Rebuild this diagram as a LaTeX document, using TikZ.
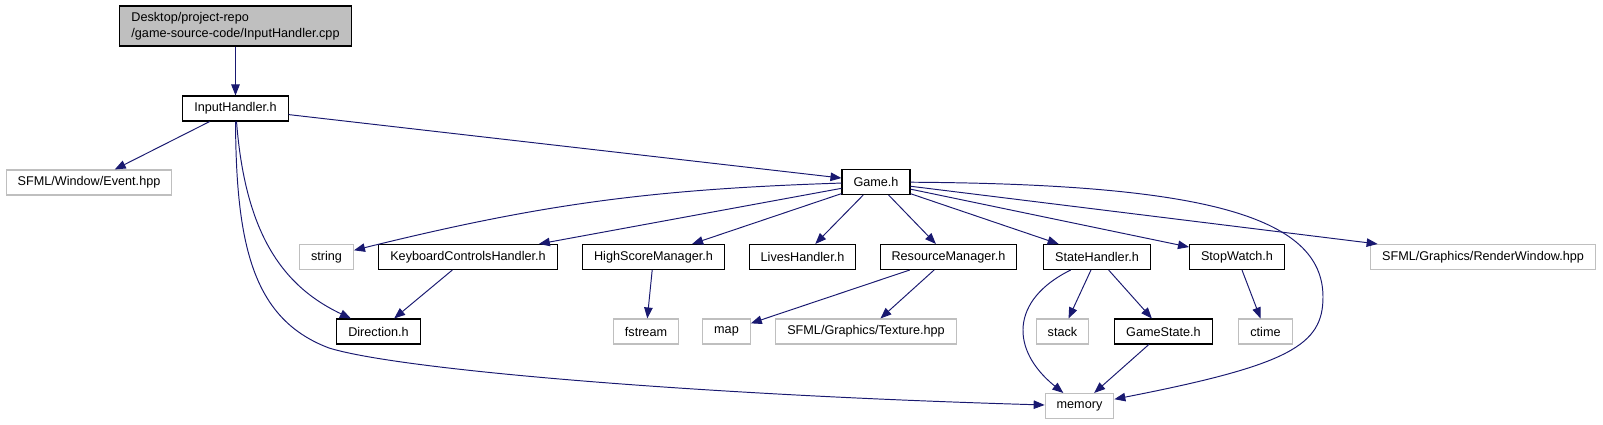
\documentclass[tikz,border=0pt]{standalone}
\usepackage{fontspec}
\setmainfont{Liberation Sans}
\usetikzlibrary{arrows.meta}
\definecolor{okLacivert}{HTML}{191970}
\definecolor{acikGri}{HTML}{BFBFBF}

\begin{document}
\begin{tikzpicture}[x=0.02cm, y=-0.02cm,
  every node/.style={font=\fontsize{7.2}{9}\selectfont, inner xsep=0.23cm, inner ysep=0pt, minimum height=0.5cm},
  kutu/.style={draw=black, line width=0.6pt},
  sistem/.style={draw=acikGri, line width=0.6pt},
  kok/.style={draw=black, fill=acikGri, line width=0.6pt, align=left, minimum height=0.8cm},
  ok/.style={-{Triangle[length=2.2mm,width=1.7mm]}, okLacivert, line width=0.55pt}]
\useasboundingbox (0,0) rectangle (1603,425);
% ust seviye
\node[kok] (kaynak) at (235.5,26) {Desktop/project-repo\\/game-source-code/InputHandler.cpp};
\node[kutu] (ih) at (235.5,108.5) {InputHandler.h};
\node[sistem] (event) at (89,182.5) {SFML/Window/Event.hpp};
\node[kutu] (game) at (876,182) {Game.h};
% orta sira
\node[sistem] (string) at (326.5,257) {string};
\node[kutu] (klavye) at (468,257) {KeyboardControlsHandler.h};
\node[kutu] (skor) at (653.5,257) {HighScoreManager.h};
\node[kutu] (can) at (802.5,257) {LivesHandler.h};
\node[kutu] (kaynakYon) at (948.5,257) {ResourceManager.h};
\node[kutu] (durum) at (1097,257) {StateHandler.h};
\node[kutu] (kronometre) at (1237,257) {StopWatch.h};
\node[sistem] (pencere) at (1483,257) {SFML/Graphics/RenderWindow.hpp};
% alt sira
\node[kutu] (yon) at (378.5,331.5) {Direction.h};
\node[sistem] (fstream) at (646,331.5) {fstream};
\node[sistem] (map) at (726.5,331.5) {map};
\node[sistem] (doku) at (866,331.5) {SFML/Graphics/Texture.hpp};
\node[sistem] (stack) at (1062.5,331.5) {stack};
\node[kutu] (oyunDurum) at (1163.5,331.5) {GameState.h};
\node[sistem] (ctime) at (1265.5,331.5) {ctime};
\node[sistem] (memory) at (1079.5,406) {memory};
% baglantilar
\draw[ok] (kaynak) -- (ih);
\draw[ok] (ih) -- (event);
\draw[ok] (ih) -- (game);
\draw[ok] (ih) .. controls (245,230) and (280,285) .. (yon);
\draw[ok] (ih) .. controls (236,250) and (255,320) .. (329,348)
  .. controls (400,370) and (700,395) .. (memory);
\draw[ok] (game) to[bend right=6] (string);
\draw[ok] (game) -- (klavye);
\draw[ok] (game) -- (skor);
\draw[ok] (game) -- (can);
\draw[ok] (game) -- (kaynakYon);
\draw[ok] (game) -- (durum);
\draw[ok] (game) -- (kronometre);
\draw[ok] (game) -- (pencere);
\draw[ok] (game) .. controls (1200,184) and (1323,215) .. (1323,297)
  .. controls (1323,345) and (1290,365) .. (memory);
\draw[ok] (klavye) -- (yon);
\draw[ok] (skor) -- (fstream);
\draw[ok] (kaynakYon) -- (map);
\draw[ok] (kaynakYon) -- (doku);
\draw[ok] (durum) .. controls (1010,300) and (1010,350) .. (memory);
\draw[ok] (durum) -- (stack);
\draw[ok] (durum) -- (oyunDurum);
\draw[ok] (kronometre) -- (ctime);
\draw[ok] (oyunDurum) -- (memory);
\end{tikzpicture}
\end{document}
